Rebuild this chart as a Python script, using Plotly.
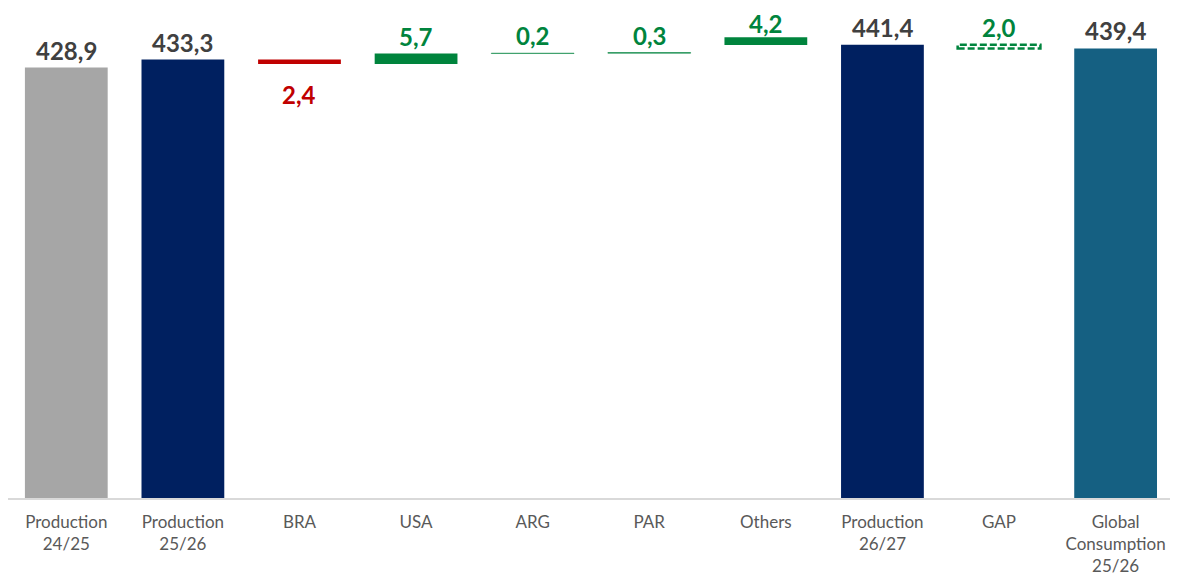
import plotly.graph_objects as go

# categories and values
categories = ["Production<br>24/25", "Production<br>25/26", "BRA", "USA", "ARG", "PAR",
              "Others", "Production<br>26/27", "GAP", "Global<br>Consumption<br>25/26"]
values = [428.9, 433.3, -2.4, 5.7, 0.2, 0.3, 4.2, 441.4, 2.0, 439.4]
bases = [0, 0, 433.3, 430.9, 436.6, 436.8, 441.3, 0, 439.4, 0]
kinds = ["total", "total", "delta", "delta", "delta", "delta", "delta", "total", "gap", "total"]

TOTAL_COLORS = {0: "#A6A6A6", 1: "#002060", 7: "#002060", 9: "#156082"}
GREEN = "#00843D"
RED = "#C00000"
BAR_W = 0.71
FONT = "Century Gothic, Lato, sans-serif"


def bar_color(i):
    if kinds[i] == "total":
        return TOTAL_COLORS[i]
    if kinds[i] == "gap":
        return "rgba(0,0,0,0)"
    return GREEN if values[i] > 0 else RED


colors = [bar_color(i) for i in range(len(categories))]
# thin outline so the tiny deltas stay visible as a hairline
outline = ["rgba(0,132,61,0.5)" if kinds[i] == "delta" and abs(values[i]) < 1 else "rgba(0,0,0,0)"
           for i in range(len(categories))]

fig = go.Figure()
fig.add_trace(go.Bar(
    x=list(range(len(categories))),
    y=values,
    base=bases,
    width=BAR_W,
    marker=dict(color=colors, line=dict(color=outline, width=1)),
    hoverinfo="skip",
))

# GAP drawn as a dashed outline box
for i, k in enumerate(kinds):
    if k == "gap":
        fig.add_shape(type="rect", xref="x", yref="y",
                      x0=i - BAR_W / 2, x1=i + BAR_W / 2,
                      y0=bases[i], y1=bases[i] + values[i],
                      line=dict(color=GREEN, width=2.5, dash="7px,3px"),
                      fillcolor="rgba(0,0,0,0)")

# value labels
for i, v in enumerate(values):
    top = bases[i] + max(v, 0)
    bottom = bases[i] + min(v, 0)
    txt = f"{abs(v):.1f}".replace(".", ",")
    if kinds[i] == "total":
        col = "#404040"
    else:
        col = GREEN if v > 0 else RED
    if v >= 0:
        # labels near the top edge sit a bit tighter so they are not clipped
        shift = -3 if top > 445 else 1
        fig.add_annotation(x=i, y=top, text=f"<b>{txt}</b>", showarrow=False,
                           yanchor="bottom", yshift=shift,
                           font=dict(family=FONT, size=24, color=col))
    else:
        fig.add_annotation(x=i, y=bottom, text=f"<b>{txt}</b>", showarrow=False,
                           yanchor="top", yshift=-14,
                           font=dict(family=FONT, size=24, color=col))

# the page body has an 8px margin, so the figure is sized to fit what is left
fig.update_layout(
    width=1170, height=568,
    margin=dict(l=0, r=0, t=3, b=78, autoexpand=False),
    plot_bgcolor="white", paper_bgcolor="white",
    showlegend=False,
    bargap=0.29,
    xaxis=dict(
        tickmode="array",
        tickvals=list(range(len(categories))),
        ticktext=categories,
        range=[-0.5, 9.535],
        automargin=False,
        showgrid=False, zeroline=False,
        showline=True, linecolor="#D9D9D9", linewidth=1.5,
        ticks="", ticklabelstandoff=8,
        tickfont=dict(family=FONT, size=17, color="#595959"),
    ),
    yaxis=dict(range=[192, 460], visible=False, showgrid=False, zeroline=False,
               automargin=False),
)

fig.write_html("out.html")
